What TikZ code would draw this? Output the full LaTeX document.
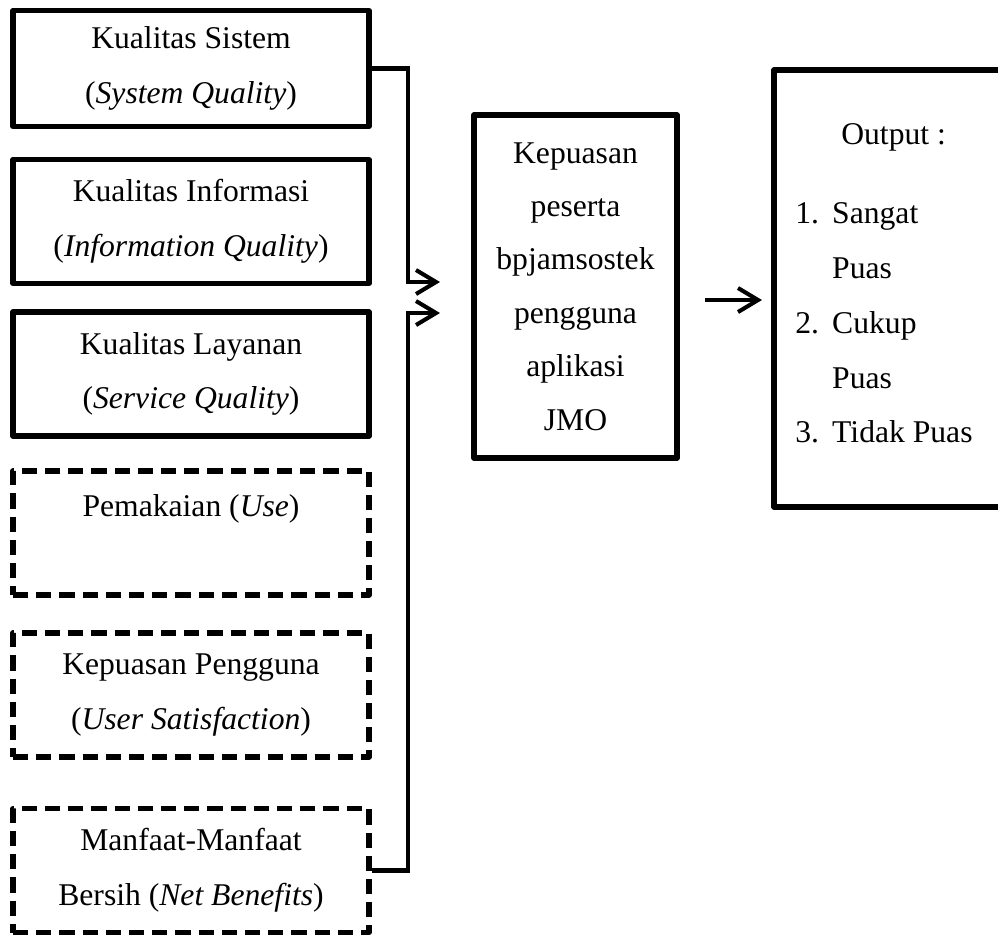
\documentclass[tikz,border=0pt]{standalone}
\usepackage{fontspec}
\setmainfont{Liberation Serif}
\usetikzlibrary{arrows.meta}

\begin{document}
\begin{tikzpicture}[x=0.025cm,y=-0.025cm,
	font=\fontsize{22.5}{39}\selectfont,
	box/.style={draw,line width=3.8pt,line join=round,minimum width=8.9cm,minimum height=3.1cm,align=center,inner sep=0pt},
	dbox/.style={box,dash pattern=on 0.38cm off 0.2cm},
	arr/.style={line width=2.9pt,-{Straight Barb[length=0.5cm,width=0.6cm]}}]
		\useasboundingbox (0,0) rectangle (998,936);

		% success model factors
		\node[box,minimum height=2.9cm] (sys) at (191,68.5) {Kualitas Sistem\\(\textit{System Quality})};
		\node[box] (info) at (191,221.5) {Kualitas Informasi\\(\textit{Information Quality})};
		\node[box] (serv) at (191,374) {Kualitas Layanan\\(\textit{Service Quality})};
		\node[dbox] (use) at (191,533) {Pemakaian (\textit{Use})\\ \mbox{}};
		\node[dbox] (usat) at (191,695) {Kepuasan Pengguna\\(\textit{User Satisfaction})};
		\node[dbox] (net) at (191,870.5) {Manfaat-Manfaat\\Bersih (\textit{Net Benefits})};

		% satisfaction box
		\node[box,minimum width=5.075cm,minimum height=8.575cm,font=\fontsize{22.5}{38}\selectfont] (jmo)
			at (575.5,286.5) {Kepuasan\\peserta\\bpjamsostek\\pengguna\\aplikasi\\JMO};

		% output box
		\node[box,minimum width=5.95cm,minimum height=10.925cm] (out) at (893,288.5) {};
		\node[anchor=north west,inner sep=0pt] (outtxt) at (795,106) {%
			\begin{tabular}{@{}l@{\hspace{0.33cm}}l@{}}
			\multicolumn{2}{@{}l@{}}{\hspace{1.15cm}Output :}\\[0.6cm]
			1. & Sangat\\
			   & Puas\\
			2. & Cukup\\
			   & Puas\\
			3. & Tidak Puas
			\end{tabular}};

		% arrows
		\coordinate (in1) at (440,282);
		\coordinate (in2) at (440,313);
		\coordinate (o1) at (705,300);
		\coordinate (o2) at (762,300);
		\draw[arr] (sys.east) -- ++(36,0) |- (in1);
		\draw[arr] (net.east) -- ++(36,0) |- (in2);
		\draw[arr] (o1) -- (o2);
\end{tikzpicture}
\end{document}
